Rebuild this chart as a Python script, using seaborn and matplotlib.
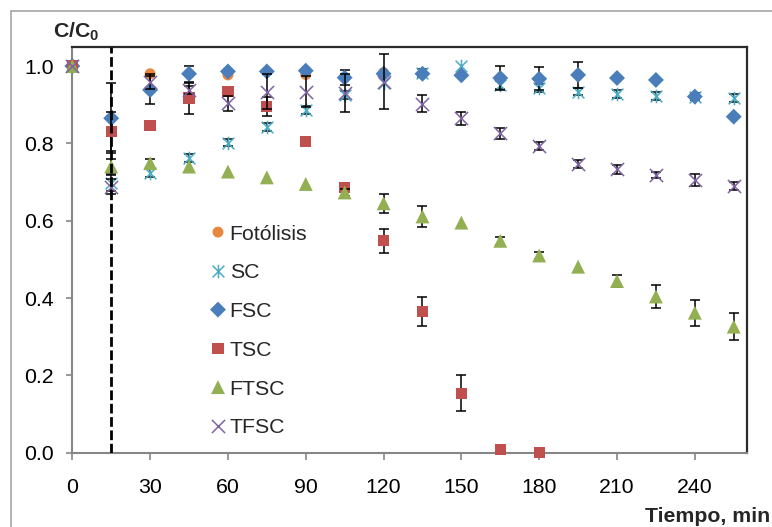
import numpy as np
import matplotlib
matplotlib.use("Agg")
import matplotlib.pyplot as plt
from matplotlib.path import Path
from matplotlib.lines import Line2D
import seaborn as sns

# Sampling times (min)
minutes = [0, 15, 30, 45, 60, 75, 90, 105, 120, 135, 150, 165, 180, 195, 210, 225, 240, 255]
minutes_fotolisis = [0, 30, 60, 90, 120]
minutes_tsc = [0, 15, 30, 45, 60, 75, 90, 105, 120, 135, 150, 165, 180]

# Normalised concentration C/C0 for each treatment
fotolisis = [1.0, 0.98, 0.977, 0.978, 0.983]
sc = [1.0, 0.698, 0.723, 0.762, 0.802, 0.843, 0.887, 0.925, 0.955, 0.982, 1.0,
      0.951, 0.943, 0.934, 0.927, 0.923, 0.921, 0.917]
fsc = [1.0, 0.865, 0.938, 0.98, 0.986, 0.986, 0.988, 0.97, 0.98, 0.98, 0.976,
       0.969, 0.967, 0.977, 0.969, 0.964, 0.921, 0.869]
tsc = [1.0, 0.831, 0.846, 0.917, 0.934, 0.895, 0.805, 0.686, 0.548, 0.365, 0.154,
       0.009, 0.0]
ftsc = [1.0, 0.74, 0.749, 0.74, 0.727, 0.712, 0.695, 0.673, 0.645, 0.611, 0.595,
        0.548, 0.51, 0.481, 0.444, 0.404, 0.362, 0.326]
tfsc = [1.0, 0.688, 0.96, 0.938, 0.904, 0.934, 0.934, 0.93, 0.96, 0.902, 0.865,
        0.826, 0.794, 0.746, 0.733, 0.718, 0.706, 0.69]

# Standard deviations (0 = no error bar drawn)
fotolisis_err = [0, 0, 0, 0, 0]
sc_err = [0, 0.02, 0.01, 0.01, 0.01, 0.01, 0.01, 0.01, 0, 0.01, 0, 0.01, 0.01,
          0.01, 0.01, 0.01, 0.01, 0.01]
fsc_err = [0, 0.09, 0.037, 0.02, 0, 0, 0, 0.02, 0, 0, 0, 0.032, 0.03, 0.033, 0,
           0, 0, 0]
tsc_err = [0, 0.05, 0, 0.04, 0, 0.025, 0, 0, 0.031, 0.037, 0.047, 0, 0]
ftsc_err = [0, 0.02, 0.01, 0, 0, 0, 0, 0.01, 0.025, 0.028, 0, 0.01, 0.01, 0,
            0.015, 0.029, 0.034, 0.035]
tfsc_err = [0, 0.02, 0.02, 0.01, 0.019, 0.046, 0.04, 0.05, 0.07, 0.022, 0.017,
            0.015, 0.01, 0.01, 0.012, 0.008, 0.015, 0.01]

x_ticks = [0, 30, 60, 90, 120, 150, 180, 210, 240]
y_ticks = [0.0, 0.2, 0.4, 0.6, 0.8, 1.0]
dark_phase_end = 15

sns.set_style("white")
plt.rcParams["font.family"] = ["Liberation Sans", "DejaVu Sans"]
plt.rcParams["mathtext.fontset"] = "custom"
plt.rcParams["mathtext.rm"] = "Liberation Sans"
plt.rcParams["mathtext.bf"] = "Liberation Sans:bold"

FS = 15.3
W, H = 772, 527
fig = plt.figure(figsize=(W / 100, H / 100), dpi=100)
ax_l, ax_r, ax_t, ax_b = 72.3, 746.7, 46.7, 452.7
ax = fig.add_axes([ax_l / W, 1 - ax_b / H, (ax_r - ax_l) / W, (ax_b - ax_t) / H])

# Excel-style asterisk: an X crossed by a vertical stroke
star = Path([(-1, -1), (1, 1), (-1, 1), (1, -1), (0, -1.15), (0, 1.15)],
            [Path.MOVETO, Path.LINETO] * 3)

series = [
    ("Fotólisis", minutes_fotolisis, fotolisis, fotolisis_err, "o", "#E8873F", 62, None),
    ("SC", minutes, sc, sc_err, star, "#4BACC6", 95, 1.1),
    ("FSC", minutes, fsc, fsc_err, "D", "#4A7EBB", 66, None),
    ("TSC", minutes_tsc, tsc, tsc_err, "s", "#C0504D", 66, None),
    ("FTSC", minutes, ftsc, ftsc_err, "^", "#92AF52", 100, None),
    ("TFSC", minutes, tfsc, tfsc_err, "x", "#8064A2", 90, 1.1),
]

for i, (name, tx, ty, terr, mk, col, size, lw) in enumerate(series):
    tx_a, ty_a, te_a = np.array(tx), np.array(ty), np.array(terr)
    has_err = te_a > 0
    if has_err.any():
        eb = ax.errorbar(tx_a[has_err], ty_a[has_err], yerr=te_a[has_err], fmt="none",
                         ecolor="black", elinewidth=1.1, capsize=3.8, capthick=1.1,
                         zorder=3 + 2 * i)
        for art in eb.lines[1] + eb.lines[2]:
            art.set_clip_on(False)
    kws = dict(x=tx, y=ty, marker=mk, color=col, s=size, label=name, ax=ax,
               zorder=4 + 2 * i, clip_on=False)
    if lw is not None:
        kws.update(edgecolor=col, linewidth=lw)
    else:
        kws.update(edgecolor="none", linewidth=0)
    sns.scatterplot(**kws)

ax.axvline(dark_phase_end, color="black", lw=2.0, ls=(0, (3.5, 1.3)), zorder=20)

ax.set_xlim(0, 260)
ax.set_ylim(0, 1.05)
ax.set_xticks(x_ticks)
ax.set_xticklabels([str(v) for v in x_ticks])
ax.set_yticks(y_ticks)
ax.set_yticklabels([f"{v:.1f}" for v in y_ticks])
ax.set_xlabel("")
ax.set_ylabel("")

axis_gray = "#868686"
for side in ("left", "bottom"):
    ax.spines[side].set_color(axis_gray)
    ax.spines[side].set_linewidth(1.5)
for side in ("top", "right"):
    ax.spines[side].set_color("#2b2b2b")
    ax.spines[side].set_linewidth(1.6)
ax.tick_params(axis="x", direction="out", length=4.8, width=1.2, color=axis_gray,
               labelsize=FS, pad=13.5, labelcolor="black", bottom=True)
ax.tick_params(axis="y", direction="out", length=4.5, width=1.2, color=axis_gray,
               labelsize=FS, pad=8.6, labelcolor="black", left=True)

leg = ax.legend(loc="upper left", bbox_to_anchor=(0.2034, 0.562), frameon=False,
                borderpad=0, borderaxespad=0, handlelength=0.8, handletextpad=0.15,
                labelspacing=0.93, fontsize=FS, scatterpoints=1, scatteryoffsets=[0.5])

fig.text(53 / W, 1 - 37.3 / H, r"$\mathbf{C/C_0}$", fontsize=FS, ha="left",
         va="baseline")
fig.text(770 / W, 1 - 521.7 / H, "Tiempo, min", fontsize=FS, fontweight="bold",
         ha="right", va="baseline")

# Chart-area border
border = dict(color="#a6a6a6", lw=1.2, transform=fig.transFigure)
fig.add_artist(Line2D([11 / W, 1.0], [1 - 11 / H, 1 - 11 / H], **border))
fig.add_artist(Line2D([11 / W, 11 / W], [0.0, 1 - 11 / H], **border))

fig.savefig("out.png", dpi=100)
